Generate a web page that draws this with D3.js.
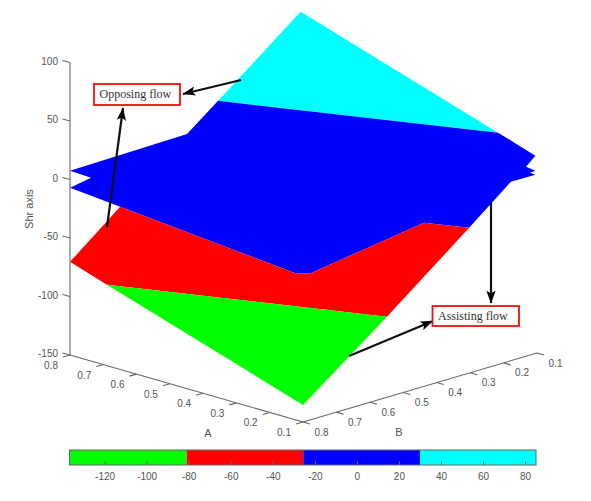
<!DOCTYPE html>
<html>
<head>
<meta charset="utf-8">
<script src="https://cdn.jsdelivr.net/npm/d3@7/dist/d3.min.js"></script>
<style>
html,body{margin:0;padding:0;background:#fff}
svg{display:block}
text{font-family:"Liberation Sans",Arial,sans-serif}
</style>
</head>
<body>
<svg id="c" width="591" height="501"></svg>
<script>
// ---- data: every vertex is [A, B, Shr] ----
const cyanBand = [[0.8,0.11,85.3],[0.217,0.1,28.7],[0.8,0.357,29.9]];
const blueBand = [
  [0.8,0.8,7.5],[0.8,0.45,9.5],[0.8,0.357,29.9],[0.217,0.1,28.7],
  [0.1,0.105,19.0],[0.1,0.133,11.9],[0.1,0.105,6.2],[0.1,0.121,5.8],[0.1,0.105,2.7],
  [0.1,0.178,2.9],[0.1,0.303,-25.9],[0.189,0.349,-25],[0.101,0.778,-25],[0.122,0.799,-25],
  [0.8,0.65,-36],[0.8,0.8,-7],[0.8,0.737,-3.8]
];
const redBand = [
  [0.8,0.8,-70.4],[0.8,0.65,-36],[0.122,0.799,-25],[0.101,0.778,-25],[0.189,0.349,-25],
  [0.1,0.303,-25.9],[0.1,0.549,-81.2],[0.689,0.8,-80.9]
];
const greenBand = [[0.689,0.8,-80.9],[0.1,0.549,-81.2],[0.1,0.8,-135.4]];
const bandEdges = [-136.7,-81,-25.5,30,85.2];
const bandNames = ["green","red","blue","cyan"];
const zTicks = [100,50,0,-50,-100,-150];
const aTicks = [0.8,0.7,0.6,0.5,0.4,0.3,0.2,0.1];
const bTicks = [0.8,0.7,0.6,0.5,0.4,0.3,0.2,0.1];
const cbTicks = [-120,-100,-80,-60,-40,-20,0,20,40,60,80];

// ---- scales: oblique projection of the 3-D box ----
const originX = 70;
const aX = d3.scaleLinear([0.8,0.1],[0,233]);
const aY = d3.scaleLinear([0.8,0.1],[0,67]);
const bX = d3.scaleLinear([0.8,0.1],[0,234]);
const bY = d3.scaleLinear([0.8,0.1],[0,-69]);
const zY = d3.scaleLinear([-150,100],[355,62.5]);
const px = (a,b) => originX + aX(a) + bX(b);
const py = (a,b,z) => zY(z) + aY(a) + bY(b);
const cb = d3.scaleLinear([bandEdges[0],bandEdges[4]],[69.5,536]);

const svg = d3.select("#c");
const axisCol = "#666", textCol = "#555";
const gridLine = d3.line().x(d=>px(d[0],d[1])).y(d=>py(d[0],d[1],d[2])).curve(d3.curveLinearClosed);

// ---- surface bands ----
const bands = [[cyanBand,"cyan"],[blueBand,"blue"],[redBand,"red"],[greenBand,"#00ff00"]];
svg.append("g").selectAll("path").data(bands).join("path")
  .attr("d",d=>gridLine(d[0])).attr("fill",d=>d[1]);

// ---- 3-D axes ----
const ax = svg.append("g").attr("stroke",axisCol).attr("fill","none").attr("stroke-width",1.1);
ax.append("line").attr("x1",originX).attr("x2",originX).attr("y1",zY(100)).attr("y2",zY(-150));
ax.append("line").attr("x1",px(0.8,0.8)).attr("y1",py(0.8,0.8,-150)).attr("x2",px(0.1,0.8)).attr("y2",py(0.1,0.8,-150));
ax.append("line").attr("x1",px(0.1,0.8)).attr("y1",py(0.1,0.8,-150)).attr("x2",px(0.1,0.1)).attr("y2",py(0.1,0.1,-150));

ax.selectAll("line.z").data(zTicks).join("line").attr("class","z")
  .attr("x1",originX).attr("y1",d=>zY(d)).attr("x2",originX-7.5).attr("y2",d=>zY(d)-2);
ax.selectAll("line.a").data(aTicks).join("line").attr("class","a")
  .attr("x1",d=>px(d,0.8)).attr("y1",d=>py(d,0.8,-150)).attr("x2",d=>px(d,0.8)-7).attr("y2",d=>py(d,0.8,-150)+2);
ax.selectAll("line.b").data(bTicks).join("line").attr("class","b")
  .attr("x1",d=>px(0.1,d)).attr("y1",d=>py(0.1,d,-150)).attr("x2",d=>px(0.1,d)+7).attr("y2",d=>py(0.1,d,-150)+2);

const lab = svg.append("g").attr("fill",textCol).attr("font-size",10);
lab.selectAll("text.z").data(zTicks).join("text").attr("class","z")
  .attr("x",58).attr("y",d=>zY(d)-1.5).attr("dy","0.35em").attr("text-anchor","end").text(d=>d);
lab.selectAll("text.a").data(aTicks).join("text").attr("class","a")
  .attr("x",d=>px(d,0.8)-19).attr("y",d=>py(d,0.8,-150)+10.5).attr("dy","0.35em").attr("text-anchor","middle").text(d=>d3.format(".1f")(d));
lab.selectAll("text.b").data(bTicks).join("text").attr("class","b")
  .attr("x",d=>px(0.1,d)+18.5).attr("y",d=>py(0.1,d,-150)+10).attr("dy","0.35em").attr("text-anchor","middle").text(d=>d3.format(".1f")(d));

lab.append("text").attr("x",208).attr("y",433).attr("dy","0.35em").attr("text-anchor","middle").attr("font-size",11).text("A");
lab.append("text").attr("x",399).attr("y",432).attr("dy","0.35em").attr("text-anchor","middle").attr("font-size",11).text("B");
lab.append("text").attr("transform","translate(29,209) rotate(-90)").attr("dy","0.35em").attr("text-anchor","middle").attr("font-size",11).text("Shr axis");

// ---- colour bar ----
const cbG = svg.append("g");
cbG.selectAll("rect").data(bandNames).join("rect")
  .attr("x",(d,i)=>cb(bandEdges[i])).attr("width",(d,i)=>cb(bandEdges[i+1])-cb(bandEdges[i]))
  .attr("y",450).attr("height",15).attr("fill",d=>d==="green"?"#00ff00":d);
const cbAxis = d3.axisBottom(cb).tickValues(cbTicks).tickSizeInner(-4).tickSizeOuter(0).tickPadding(8).tickFormat(d=>String(d));
const cbA = cbG.append("g").attr("transform","translate(0,465)").call(cbAxis);
cbA.select(".domain").remove();
cbA.selectAll("line").attr("stroke",axisCol);
cbA.selectAll("text").attr("fill",textCol).attr("font-size",10).attr("font-family",'"Liberation Sans",Arial,sans-serif');
cbG.append("rect").attr("x",69.5).attr("y",450).attr("width",466.5).attr("height",15)
  .attr("fill","none").attr("stroke",axisCol).attr("stroke-width",1);

// ---- annotations ----
svg.append("defs").append("marker").attr("id","head").attr("markerUnits","userSpaceOnUse")
  .attr("viewBox","0 0 13 10").attr("refX",12.5).attr("refY",5).attr("markerWidth",13).attr("markerHeight",10).attr("orient","auto")
  .append("path").attr("d","M0,0.3 L13,5 L0,9.7 L3,5 Z").attr("fill","#000");
const arrows = [[241,80,183,94],[107,227,123,108],[491,203,491,303],[349,356,433,321]];
svg.append("g").selectAll("line").data(arrows).join("line")
  .attr("x1",d=>d[0]).attr("y1",d=>d[1]).attr("x2",d=>d[2]).attr("y2",d=>d[3])
  .attr("stroke","#111").attr("stroke-width",2.2).attr("marker-end","url(#head)");

const notes = [["Opposing flow",94,84,86,21],["Assisting flow",432.5,306,86.5,20]];
const nG = svg.append("g").selectAll("g").data(notes).join("g");
nG.append("rect").attr("x",d=>d[1]).attr("y",d=>d[2]).attr("width",d=>d[3]).attr("height",d=>d[4])
  .attr("fill","#fff").attr("stroke","#f01010").attr("stroke-width",1.8);
nG.append("text").attr("x",d=>d[1]+5.5).attr("y",d=>d[2]+d[4]/2).attr("dy","0.33em")
  .attr("font-size",12).attr("fill","#333").style("font-family",'"Liberation Serif","Times New Roman",serif').text(d=>d[0]);
</script>
</body>
</html>
